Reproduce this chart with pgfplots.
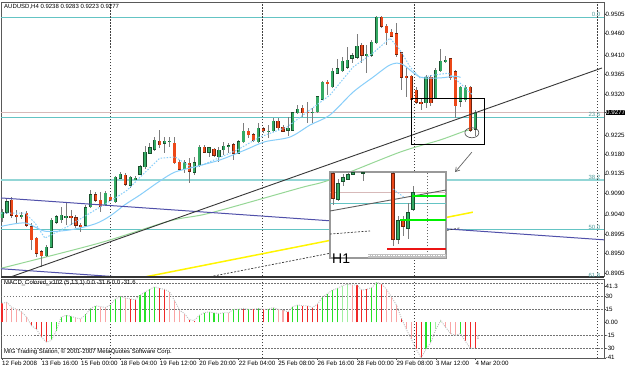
\documentclass[border=0pt]{standalone}
\usepackage{pgfplots}
\pgfplotsset{compat=1.18}
\usepackage{pgfplotstable}
\usepackage{fontspec}
\setmainfont{Liberation Sans}
\usetikzlibrary{arrows.meta}

\definecolor{bullc}{RGB}{52,170,100}
\definecolor{bearc}{RGB}{236,72,24}
\definecolor{bullo}{RGB}{25,80,45}
\definecolor{bearo}{RGB}{110,35,15}
\definecolor{wickc}{RGB}{125,125,125}
\definecolor{fibc}{RGB}{100,196,196}
\definecolor{bidc}{RGB}{215,185,185}
\definecolor{smac}{RGB}{150,215,150}
\definecolor{emac}{RGB}{135,206,250}
\definecolor{purp}{RGB}{80,80,170}
\definecolor{trendc}{RGB}{55,55,55}
\definecolor{yelc}{RGB}{255,245,0}
\definecolor{mred}{RGB}{240,40,40}
\definecolor{mpink}{RGB}{250,165,165}
\definecolor{mgreen}{RGB}{40,225,40}
\definecolor{mlgreen}{RGB}{160,240,160}
\definecolor{hlgreen}{RGB}{0,240,0}
\definecolor{hlred}{RGB}{235,20,20}

\newcommand\mt{\fontsize{6.2}{7.2}\selectfont}
\newcommand\st{\fontsize{6}{7}\selectfont}

\pgfplotsset{
  cwick/.style={draw=none, mark=none, forget plot,
    error bars/.cd, y dir=both, y explicit, error mark=none,
    error bar style={line width=0.9pt, draw=wickc}},
  cout/.style={draw=none, mark=none, forget plot,
    error bars/.cd, y dir=both, y explicit, error mark=none,
    error bar style={line width=3.2pt, draw=#1}},
  cbody/.style={draw=none, mark=none, forget plot,
    error bars/.cd, y dir=both, y explicit, error mark=none,
    error bar style={line width=2.2pt, draw=#1}},
}
\newcommand\candles[4]{%
  \addplot[cwick] table[x=i,y expr={(\thisrow{h}+\thisrow{l})/2},y error expr={(\thisrow{h}-\thisrow{l})/2}]{#1};
  \addplot[cout=#3] table[x=i,y expr={(\thisrow{o}+\thisrow{c})/2},y error expr={abs(\thisrow{c}-\thisrow{o})/2+#4}]{#1};
  \addplot[cbody=#2] table[x=i,y expr={(\thisrow{o}+\thisrow{c})/2},y error expr={abs(\thisrow{c}-\thisrow{o})/2}]{#1};
}

% H4 candles: bar index, open, high, low, close
\pgfplotstableread{
i o h l c
0 .9033 .9053 .9023 .9046
1 .9046 .9079 .9042 .9070
4 .9037 .9046 .9030 .9039
9 .8945 .8970 .8942 .8965
10 .8965 .9033 .8963 .9028
11 .9023 .9039 .9019 .9035
12 .9028 .9058 .9021 .9039
13 .9035 .9067 .9016 .9037
17 .9016 .9063 .9012 .9056
18 .9058 .9097 .9056 .9086
21 .9063 .9095 .9060 .9090
23 .9070 .9130 .9067 .9127
24 .9125 .9139 .9123 .9134
26 .9109 .9130 .9102 .9127
27 .9123 .9130 .9121 .9125
28 .9134 .9155 .9132 .9151
29 .9151 .9199 .9146 .9185
30 .9183 .9206 .9181 .9195
31 .9192 .9220 .9188 .9213
33 .9206 .9220 .9183 .9211
34 .9209 .9220 .9197 .9211
37 .9146 .9167 .9137 .9160
39 .9139 .9174 .9132 .9160
40 .9155 .9202 .9151 .9197
42 .9185 .9197 .9174 .9195
44 .9174 .9197 .9162 .9190
45 .9190 .9209 .9178 .9199
46 .9197 .9206 .9183 .9200
48 .9183 .9213 .9181 .9209
49 .9209 .9253 .9206 .9234
52 .9209 .9253 .9206 .9241
54 .9232 .9248 .9218 .9234
55 .9234 .9264 .9232 .9257
58 .9236 .9266 .9222 .9241
59 .9236 .9278 .9234 .9276
60 .9276 .9294 .9273 .9285
63 .9276 .9287 .9253 .9278
64 .9278 .9315 .9276 .9313
65 .9308 .9350 .9306 .9347
67 .9336 .9380 .9334 .9373
68 .9368 .9401 .9366 .9378
69 .9373 .9405 .9371 .9396
70 .9382 .9429 .9378 .9398
71 .9403 .9415 .9392 .9408
72 .9405 .9459 .9401 .9431
74 .9410 .9433 .9368 .9412
75 .9410 .9445 .9405 .9440
76 .9438 .9500 .9436 .9498
86 .9299 .9364 .9287 .9359
88 .9310 .9380 .9308 .9375
89 .9373 .9424 .9371 .9396
90 .9396 .9408 .9392 .9398
93 .9303 .9338 .9290 .9336
94 .9306 .9341 .9301 .9336
96 .9238 .9283 .9223 .9277
}\bull
\pgfplotstableread{
i o h l c
2 .9074 .9081 .9033 .9039
3 .9039 .9051 .9021 .9035
5 .9044 .9049 .9012 .9016
6 .9012 .9021 .8958 .8982
7 .8986 .8989 .8942 .8951
8 .8954 .8958 .8919 .8945
14 .9037 .9051 .9016 .9033
15 .9033 .9039 .9009 .9016
16 .9016 .9021 .9000 .9012
19 .9086 .9093 .9070 .9074
20 .9074 .9093 .9046 .9060
22 .9081 .9086 .9072 .9074
25 .9132 .9137 .9107 .9111
32 .9211 .9236 .9195 .9202
35 .9206 .9220 .9158 .9160
36 .9162 .9167 .9144 .9146
38 .9160 .9171 .9114 .9141
41 .9197 .9202 .9183 .9185
43 .9192 .9195 .9174 .9178
47 .9202 .9206 .9167 .9183
50 .9234 .9241 .9218 .9225
51 .9225 .9229 .9209 .9213
53 .9239 .9243 .9229 .9234
56 .9257 .9264 .9236 .9241
57 .9243 .9248 .9232 .9234
61 .9287 .9294 .9266 .9276
62 .9278 .9301 .9253 .9276
66 .9347 .9352 .9317 .9343
73 .9433 .9438 .9392 .9410
77 .9498 .9500 .9473 .9477
78 .9477 .9482 .9433 .9461
79 .9463 .9470 .9452 .9454
80 .9459 .9484 .9405 .9412
81 .9415 .9417 .9329 .9359
82 .9361 .9380 .9313 .9359
83 .9361 .9364 .9202 .9306
84 .9329 .9336 .9297 .9301
85 .9301 .9310 .9283 .9299
87 .9359 .9364 .9292 .9299
91 .9401 .9403 .9352 .9357
92 .9371 .9375 .9264 .9292
95 .9336 .9338 .9232 .9236
}\bear
% H1 inset candles
\pgfplotstableread{
i o h l c
1 .9270 .9290 .9268 .9285
2 .9288 .9295 .9283 .9291
3 .9290 .9296 .9289 .9294
4 .92955 .9297 .9294 .9296
6 .9296 .9297 .9288 .9296
13 .9230 .9253 .9225 .9248
15 .9241 .9266 .9230 .9256
16 .9260 .9283 .9258 .9276
}\hbull
\pgfplotstableread{
i o h l c
0 .9295 .9297 .9264 .9271
12 .9295 .9297 .9223 .9230
14 .9248 .9253 .9233 .9243
}\hbear
% MACD histogram: index, value, colour code (1 red, 2 pink, 3 green, 4 light green)
\pgfplotstableread{
i v k
0 22 1
1 23 2
2 17 2
3 15 2
4 12 2
5 6 2
6 -4 1
7 -8 1
8 -17 1
9 -23 1
10 -21 3
11 -10 3
12 6 3
13 8 3
14 7 3
15 5 2
16 4 2
17 9 3
18 16 3
19 19 3
20 18 2
21 17 2
22 20 3
23 27 3
24 30 3
25 28 2
26 27 1
27 26 1
28 31 3
29 35 3
30 38 3
31 41 3
32 39 1
33 38 1
34 35 2
35 25 2
36 14 2
37 10 2
38 3 1
39 2 1
40 8 3
41 11 3
42 12 3
43 11 3
44 10 3
45 11 3
46 11 2
47 15 3
48 15 3
49 16 1
50 15 3
51 15 1
52 16 3
53 15 1
54 15 3
55 17 3
56 15 2
57 14 2
58 12 1
59 18 3
60 20 3
61 19 1
62 19 1
63 17 1
64 21 1
65 29 3
66 33 3
67 37 3
68 39 3
69 42 4
70 44 4
71 43 2
72 43 1
73 37 1
74 38 1
75 40 3
76 46 3
77 44 1
78 38 2
79 29 2
80 20 2
81 5 1
82 -8 2
83 -19 2
84 -31 1
85 -41 1
86 -31 3
87 -23 3
88 -8 4
89 2 4
90 -6 2
91 -13 2
92 -15 2
93 -13 3
94 -22 1
95 -30 1
96 -30 1
}\macd

\begin{document}
\begin{tikzpicture}
\useasboundingbox (0,0) rectangle (625pt,368pt);
\fill[white] (0,0) rectangle (625pt,368pt);

% ---------------- main H4 panel ----------------
\begin{axis}[
  at={(1pt,92pt)}, anchor=south west, scale only axis,
  width=603pt, height=274pt,
  xmin=-0.2, xmax=122.1, ymin=0.88982, ymax=0.95328,
  axis line style={draw=black!65, line width=0.8pt},
  xtick=\empty,
  ytick={0.9505,0.9460,0.9410,0.9365,0.9320,0.9225,0.9180,0.9135,0.9090,0.9040,0.8995,0.8950,0.8905},
  yticklabels={0.9505,0.9460,0.9410,0.9365,0.9320,0.9225,0.9180,0.9135,0.9090,0.9040,0.8995,0.8950,0.8905},
  ytick pos=right, yticklabel pos=right,
  tick align=outside, major tick length=2pt,
  tick style={black!70, line width=0.5pt},
  yticklabel style={font=\mt, anchor=west, inner sep=0pt, xshift=-0.5pt},
  extra y ticks={0.9277}, extra y tick labels={0.9277},
  extra y tick style={yticklabel style={fill=black, text=white, inner sep=0.5pt}},
]
% fibonacci levels and bid line
\addplot[fibc, line width=1pt] coordinates {(-0.2,0.9498) (122.1,0.9498)};
\addplot[fibc, line width=1pt] coordinates {(-0.2,0.9266) (122.1,0.9266)};
\addplot[fibc!70, line width=1.4pt] coordinates {(-0.2,0.9121) (122.1,0.9121)};
\addplot[fibc, line width=1pt] coordinates {(-0.2,0.9005) (122.1,0.9005)};
\addplot[bidc, line width=0.8pt] coordinates {(-0.2,0.9277) (122.1,0.9277)};
% period separators
\foreach \s in {21.9,52.7,83.6,120.8}{
  \edef\tmp{\noexpand\addplot[black!75, line width=0.6pt, dash pattern=on 1.5pt off 1.5pt] coordinates {(\s,0.88982) (\s,0.95328)};}\tmp
}
% slow moving average
\addplot[smac, line width=1pt, smooth] coordinates {(-0.2,0.8916) (19.9,0.8975) (34.1,0.9026) (42.2,0.9044) (60.4,0.9102) (66.5,0.9121) (80.7,0.9185) (88.8,0.9213) (93.9,0.9234) (95.5,0.9238)};
% candles
\candles{\bull}{bullc}{bullo}{0.00011}
\candles{\bear}{bearc}{bearo}{0.00011}
% moving averages
\addplot[emac, line width=1pt, smooth] coordinates {(-0.2,0.9013) (4.67,0.9021) (8.72,0.9002) (13.8,0.9005) (18.9,0.9019) (21.9,0.9037) (24.9,0.9063) (28.0,0.9086) (32.0,0.9118) (35.1,0.9139) (39.1,0.9151) (44.2,0.9167) (49.3,0.9190) (53.3,0.9209) (58.4,0.9220) (62.5,0.9248) (66.5,0.9271) (71.2,0.9324) (75.3,0.9359) (78.7,0.9387) (81.1,0.9389) (84.8,0.9359) (88.8,0.9357) (91.9,0.9361) (93.0,0.9358)};
\addplot[emac, line width=1pt, dash pattern=on 1.5pt off 1.5pt] coordinates {(-0.2,0.9044) (4.67,0.9044) (6.7,0.9021) (8.7,0.8986) (13.2,0.9012) (19.9,0.9058) (23.3,0.9081) (25.4,0.9097) (28.0,0.9127) (32.0,0.9171) (35.1,0.9174) (38.7,0.9148) (41.6,0.9160) (47.7,0.9190) (52.3,0.9220) (57.8,0.9243) (61.9,0.9278) (66.5,0.9317) (71.2,0.9382) (75.3,0.9415) (78.7,0.9449) (80.7,0.9422) (82.8,0.9382) (84.8,0.9357) (87.8,0.9364) (90.5,0.9368) (92.9,0.9345) (95.5,0.9317)};
% trend lines
\addplot[purp, line width=1pt] coordinates {(-0.2,0.9079) (122.1,0.8982)};
\addplot[purp, line width=1pt] coordinates {(-0.2,0.8915) (30,0.8891)};
\addplot[yelc, line width=1.5pt] coordinates {(29,0.8896) (95.5,0.9046)};
\addplot[trendc, line width=0.7pt, dash pattern=on 2pt off 1.5pt] coordinates {(41.5,0.8895) (93,0.9010)};
\addplot[trendc, line width=0.9pt] coordinates {(1.5,0.8895) (121.7,0.9380)};
% annotations
\draw[black, line width=0.8pt] (axis cs:83.0,0.9310) rectangle (axis cs:97.8,0.9202);
\draw[black!65, line width=0.7pt] (axis cs:95.3,0.9230) ellipse [x radius=7pt, y radius=5pt];
\draw[black!60, line width=0.7pt, -{Straight Barb[length=4pt,width=5pt]}] (axis cs:95.3,0.9185) -- (axis cs:91.9,0.9139);
\end{axis}

% ---------------- H1 inset ----------------
\begin{axis}[
  at={(330pt,110pt)}, anchor=south west, scale only axis,
  width=116pt, height=86pt,
  xmin=-0.6, xmax=22.6, ymin=0.9211, ymax=0.9297,
  axis background/.style={fill=white}, ticks=none,
  axis line style={draw=black!40, line width=1.6pt},
]
\addplot[fibc, line width=0.9pt] coordinates {(-0.6,0.9266) (22.6,0.9266)};
\addplot[bidc, line width=0.8pt] coordinates {(-0.6,0.9277) (22.6,0.9277)};
\addplot[black!60, line width=0.6pt, dash pattern=on 1.5pt off 1.5pt] coordinates {(18.8,0.9211) (18.8,0.9297)};
\addplot[trendc, line width=0.7pt, dash pattern=on 2pt off 1.5pt] coordinates {(-0.6,0.9235) (7.4,0.9238)};
\addplot[trendc!80, line width=0.9pt] coordinates {(-0.6,0.9258) (22.6,0.9279)};
\candles{\hbull}{bullc}{bullo}{0.0001}
\candles{\hbear}{bearc}{bearo}{0.0001}
\addplot[hlgreen, line width=1.8pt] coordinates {(15.8,0.9273) (22.6,0.9273)};
\addplot[hlgreen, line width=1.8pt] coordinates {(13.4,0.9249) (22.6,0.9249)};
\addplot[hlred, line width=1.8pt] coordinates {(10.8,0.9220) (22.6,0.9220)};
\addplot[emac, line width=0.9pt, dash pattern=on 1.5pt off 1.5pt] coordinates {(12,0.9280) (14.4,0.9271)};
\fill[black!25] (axis cs:7,0.9211) rectangle (axis cs:22.6,0.92155);
\draw[white, line width=0.8pt, dash pattern=on 1.5pt off 1pt] (axis cs:7,0.92133) -- (axis cs:22.6,0.92133);
\end{axis}
\node[anchor=west, inner sep=0pt, font=\fontsize{14}{14}\selectfont] at (332pt,109pt) {H1};

% ---------------- MACD panel ----------------
\begin{axis}[
  at={(1pt,10pt)}, anchor=south west, scale only axis,
  width=603pt, height=79pt,
  xmin=-0.2, xmax=122.1, ymin=-41.2, ymax=49.9,
  axis line style={draw=black!65, line width=0.8pt},
  xtick={0,8,...,96},
  xticklabels={12 Feb 2008,13 Feb 16:00,15 Feb 00:00,18 Feb 04:00,19 Feb 12:00,20 Feb 20:00,22 Feb 04:00,25 Feb 08:00,26 Feb 16:00,28 Feb 00:00,29 Feb 08:00,3 Mar 12:00,4 Mar 20:00},
  xtick pos=bottom,
  xticklabel style={font=\mt, anchor=north west, inner sep=1pt, xshift=-1pt},
  ytick={-41,-30,-15,0,15,30,41.3},
  yticklabels={-41,-30,-15,0.00,15,30,41.3},
  ytick pos=right, yticklabel pos=right,
  tick align=outside, major tick length=2pt,
  tick style={black!70, line width=0.5pt},
  yticklabel style={font=\mt, anchor=west, inner sep=0pt, xshift=-0.5pt},
]
\foreach \lv in {44.5,30,15,-15,-30}{
  \edef\tmp{\noexpand\addplot[black!55, line width=0.5pt, dash pattern=on 1.5pt off 1.5pt] coordinates {(-0.2,\lv) (122.1,\lv)};}\tmp
}
\foreach \s in {21.9,52.7,83.6,120.8}{
  \edef\tmp{\noexpand\addplot[black!75, line width=0.6pt, dash pattern=on 1.5pt off 1.5pt] coordinates {(\s,-41.2) (\s,49.9)};}\tmp
}
\addplot[ycomb, mred, line width=1.1pt, restrict expr to domain={\thisrow{k}}{1:1}] table[x=i,y=v]{\macd};
\addplot[ycomb, mpink, line width=1.1pt, restrict expr to domain={\thisrow{k}}{2:2}] table[x=i,y=v]{\macd};
\addplot[ycomb, mgreen, line width=1.1pt, restrict expr to domain={\thisrow{k}}{3:3}] table[x=i,y=v]{\macd};
\addplot[ycomb, mlgreen, line width=1.1pt, restrict expr to domain={\thisrow{k}}{4:4}] table[x=i,y=v]{\macd};
\addplot[black!25, line width=0.9pt, dash pattern=on 1pt off 1.2pt] table[x=i,y=v]{\macd};
\end{axis}

\draw[black!80, line width=2.2pt] (1pt,91pt) -- (604pt,91pt);

% texts
\node[anchor=west, inner sep=0pt, font=\st] at (4pt,361pt) {AUDUSD,H4 0.9238 0.9283 0.9223 0.9277};
\node[anchor=west, inner sep=0pt, font=\st] at (4pt,85pt) {MACD\_Colored\_v102 (5,13,1) 0.0 -31.6 0.0 -31.6};
\node[anchor=west, inner sep=0pt, font=\st] at (4pt,16pt) {MIG Trading Station, © 2001-2007 MetaQuotes Software Corp.};
\node[font=\fontsize{5}{5}\selectfont, text=black!40] at (478pt,30pt) {1};
\begin{scope}[every node/.style={anchor=south east, inner sep=0.5pt, font=\st, text=fibc!80!black}]
\node at (601pt,351pt) {0.0};
\node at (601pt,251pt) {23.6};
\node at (601pt,188pt) {38.2};
\node at (601pt,138pt) {50.0};
\node at (601pt,90pt) {61.8};
\end{scope}
\end{tikzpicture}
\end{document}
